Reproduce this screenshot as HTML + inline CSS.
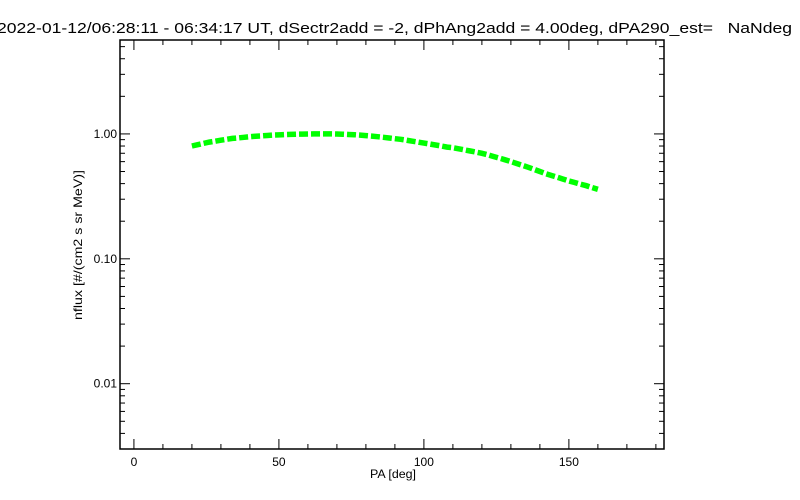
<!DOCTYPE html>
<html><head><meta charset="utf-8"><style>
body{margin:0;background:#fff;}
svg{display:block;font-family:"Liberation Sans",sans-serif;}
</style></head><body>
<svg id="chart" width="800" height="500" viewBox="0 0 800 500" xmlns="http://www.w3.org/2000/svg">
<rect width="800" height="500" fill="#fff"/>
<text x="-3" y="33" font-size="15" fill="#000" textLength="795" lengthAdjust="spacingAndGlyphs" xml:space="preserve">2022-01-12/06:28:11 - 06:34:17 UT, dSectr2add = -2, dPhAng2add = 4.00deg, dPA290_est=   NaNdeg</text>
<g id="axes"></g>
<g id="marks"></g>
<text x="393" y="478" font-size="12" text-anchor="middle" textLength="46" lengthAdjust="spacingAndGlyphs">PA [deg]</text>
<text transform="translate(82,245) rotate(-90)" font-size="12" text-anchor="middle" textLength="150" lengthAdjust="spacingAndGlyphs">nflux [#/(cm2 s sr MeV)]</text>
</svg>
<script>
const paValues=[20,22,24,26,28,30,32,34,36,38,40,42,44,46,48,50,52,54,56,58,60,62,64,66,68,70,72,74,76,78,80,82,84,86,88,90,92,94,96,98,100,102,104,106,108,110,112,114,116,118,120,122,124,126,128,130,132,134,136,138,140,142,144,146,148,150,152,154,156,158,160];
const fluxValues=[0.80,0.82,0.84,0.86,0.875,0.89,0.905,0.92,0.93,0.94,0.95,0.958,0.965,0.972,0.978,0.983,0.987,0.991,0.994,0.997,0.999,1.0,1.0,1.0,1.0,0.998,0.995,0.99,0.985,0.978,0.97,0.96,0.95,0.94,0.928,0.915,0.905,0.89,0.875,0.86,0.845,0.83,0.815,0.80,0.785,0.775,0.76,0.745,0.73,0.715,0.70,0.68,0.66,0.64,0.62,0.60,0.58,0.56,0.54,0.52,0.50,0.48,0.465,0.45,0.435,0.42,0.408,0.396,0.385,0.372,0.36];
const xTickValues=[0,50,100,150];
const yTickValues=[1,0.1,0.01];
const yTickLabels=["1.00","0.10","0.01"];

const L=120,R=664,T=40,B=449;
const xMin=-4.8,xMax=182.8;
const yMin=Math.log10(0.003),yMax=Math.log10(5.65);
function xs(v){return L+(v-xMin)/(xMax-xMin)*(R-L);}
function ys(v){return B-(Math.log10(v)-yMin)/(yMax-yMin)*(B-T);}
const NS="http://www.w3.org/2000/svg";
const axes=document.getElementById('axes');
function mk(tag,attrs,parent){const e=document.createElementNS(NS,tag);for(const k in attrs)e.setAttribute(k,attrs[k]);parent.appendChild(e);return e;}
const frame=mk('rect',{x:L,y:T,width:R-L,height:B-T,fill:'none',stroke:'#000','stroke-width':1.5},axes);


for(let v=0;v<=180;v+=10){
  const x=xs(v);const len=(v%50===0)?10:5;
  const t1=mk('line',{x1:x,y1:B,x2:x,y2:B-len,stroke:'#000','stroke-width':1},axes);
  
  
  const t2=mk('line',{x1:x,y1:T,x2:x,y2:T+len,stroke:'#000','stroke-width':1},axes);
  
  
}
xTickValues.forEach(v=>{
  const t=mk('text',{x:xs(v),y:B+17,'font-size':12,'text-anchor':'middle'},axes);
  t.textContent=String(v);
  
  
});
for(let d=-3;d<=0;d++){
  for(let m=1;m<=9;m++){
    const v=m*Math.pow(10,d);const y=ys(v);
    if(y<T-0.5||y>B+0.5)continue;
    const len=m===1?10:5;
    const t1=mk('line',{x1:L,y1:y,x2:L+len,y2:y,stroke:'#000','stroke-width':1},axes);
    
    
    const t2=mk('line',{x1:R,y1:y,x2:R-len,y2:y,stroke:'#000','stroke-width':1},axes);
    
    
  }
}
yTickValues.forEach((v,i)=>{
  const t=mk('text',{x:L-3,y:ys(v)+4,'font-size':12,'text-anchor':'end'},axes);
  t.textContent=yTickLabels[i];
  
  
});
const marks=document.getElementById('marks');
const pts=paValues.map((p,i)=>xs(p).toFixed(1)+','+ys(fluxValues[i]).toFixed(1)).join(' ');
const line=mk('polyline',{points:pts,fill:'none',stroke:'#00ff00','stroke-width':5.5,'stroke-linecap':'butt','stroke-dasharray':'9 3'},marks);


</script>
</body></html>
